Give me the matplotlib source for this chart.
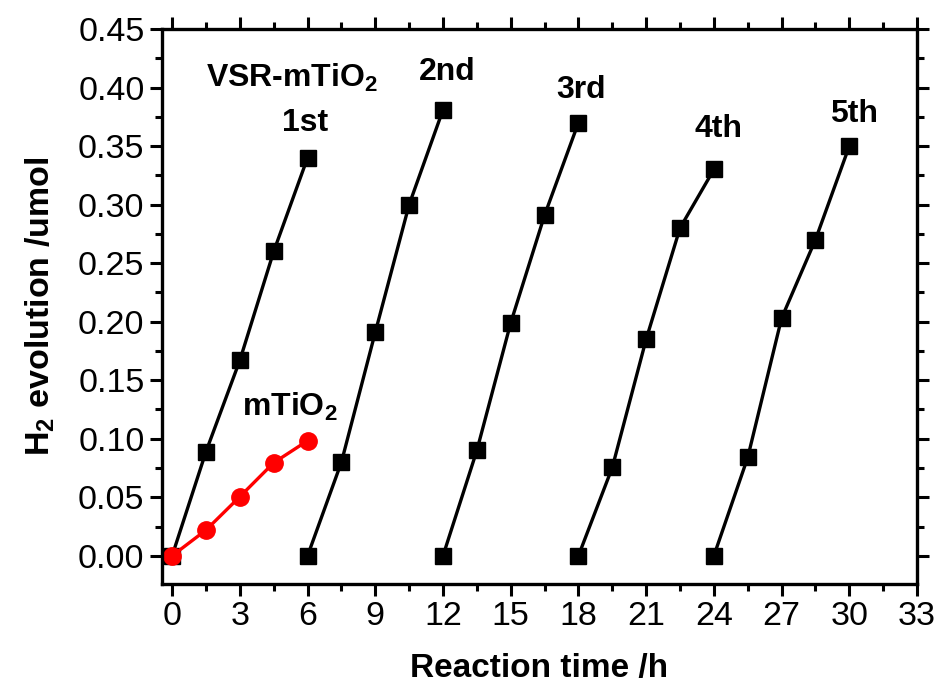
import matplotlib
matplotlib.use('Agg')
import matplotlib.pyplot as plt
from matplotlib.ticker import MultipleLocator

plt.rcParams['font.family'] = ['Liberation Sans', 'DejaVu Sans']
plt.rcParams['mathtext.fontset'] = 'custom'
plt.rcParams['mathtext.rm'] = 'Liberation Sans'
plt.rcParams['mathtext.bf'] = 'Liberation Sans:bold'

# cycle data (time in h, H2 in umol)
t_1st = [0, 1.5, 3, 4.5, 6]
h_1st = [0, 0.089, 0.167, 0.26, 0.34]
t_2nd = [6, 7.5, 9, 10.5, 12]
h_2nd = [0, 0.080, 0.191, 0.30, 0.381]
t_3rd = [12, 13.5, 15, 16.5, 18]
h_3rd = [0, 0.090, 0.199, 0.291, 0.370]
t_4th = [18, 19.5, 21, 22.5, 24]
h_4th = [0, 0.0755, 0.185, 0.28, 0.330]
t_5th = [24, 25.5, 27, 28.5, 30]
h_5th = [0, 0.084, 0.203, 0.27, 0.350]
t_m = [0, 1.5, 3, 4.5, 6]
h_m = [0, 0.022, 0.0505, 0.0795, 0.0983]

fig = plt.figure(figsize=(9.39, 6.91), dpi=100)
ax = fig.add_axes([0.1725, 0.155, 0.8041, 0.803])

for t, h in [(t_1st, h_1st), (t_2nd, h_2nd), (t_3rd, h_3rd), (t_4th, h_4th), (t_5th, h_5th)]:
    ax.plot(t, h, color='black', marker='s', markersize=11.5, lw=2.4)
ax.plot(t_m, h_m, color='red', marker='o', markersize=12.5, lw=2.4)

# labels
ax.text(5.3, 0.408, r'VSR-mTiO$_\mathbf{2}$', fontsize=23, fontweight='bold', ha='center', va='center')
ax.text(5.9, 0.37, '1st', fontsize=23, fontweight='bold', ha='center', va='center')
ax.text(12.2, 0.413, '2nd', fontsize=23, fontweight='bold', ha='center', va='center')
ax.text(18.1, 0.398, '3rd', fontsize=23, fontweight='bold', ha='center', va='center')
ax.text(24.2, 0.365, '4th', fontsize=23, fontweight='bold', ha='center', va='center')
ax.text(30.2, 0.377, '5th', fontsize=23, fontweight='bold', ha='center', va='center')
ax.text(5.2, 0.127, r'mTiO$_\mathbf{2}$', fontsize=23, fontweight='bold', ha='center', va='center')

ax.set_xlim(-0.45, 33)
ax.set_ylim(-0.024, 0.45)
ax.xaxis.set_major_locator(MultipleLocator(3))
ax.xaxis.set_minor_locator(MultipleLocator(1.5))
ax.yaxis.set_major_locator(MultipleLocator(0.05))
ax.yaxis.set_minor_locator(MultipleLocator(0.025))
ax.yaxis.set_major_formatter(matplotlib.ticker.FormatStrFormatter('%.2f'))

ax.tick_params(which='major', direction='out', length=8.5, width=2.2, labelsize=24.5, pad=4)
ax.tick_params(which='minor', direction='out', length=5, width=2.2)
ax.tick_params(which='both', top=True, right=True)
for spine in ax.spines.values():
    spine.set_linewidth(2.4)

ax.set_xlabel('Reaction time /h', fontsize=24, fontweight='bold', labelpad=15)
ax.set_ylabel(r'H$_\mathbf{2}$ evolution /umol', fontsize=24.5, fontweight='bold', labelpad=15)

fig.savefig('out.png', dpi=100)
